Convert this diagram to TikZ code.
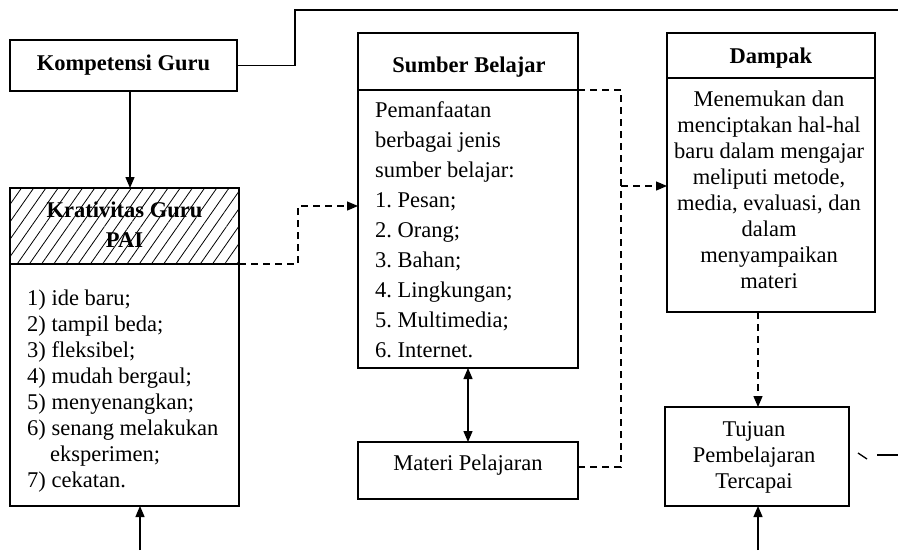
\documentclass[tikz,border=0pt]{standalone}
\usepackage{fontspec}
\setmainfont{Liberation Serif}
\usetikzlibrary{arrows.meta,patterns.meta}
\frenchspacing
\begin{document}
\begin{tikzpicture}[x=1pt,y=-1pt,
  box/.style={draw, line width=1.3pt, inner sep=0pt, outer sep=0pt, rectangle},
  arr/.style={-{Triangle[length=11pt,width=9pt]}, line width=1.3pt},
  dblarr/.style={{Triangle[length=11pt,width=9pt]}-{Triangle[length=11pt,width=9pt]}, line width=1.3pt},
  dashline/.style={line width=1.3pt, dash pattern=on 7pt off 5pt},
  darr/.style={arr, dash pattern=on 7pt off 5pt},
  ttl/.style={font=\fontsize{22.5}{30}\selectfont\bfseries\frenchspacing, inner sep=0pt},
  txt/.style={font=\fontsize{22.5}{26}\selectfont\frenchspacing, inner sep=0pt},
]
\useasboundingbox (0,0) rectangle (898,550);

% boxes
\node[box, minimum width=227pt, minimum height=51pt] (komp) at (123.5,65.5) {};
\fill[pattern={Lines[angle=55,distance=10pt,line width=0.8pt]}] (10,188) rectangle (239,264);
\node[box, minimum width=229pt, minimum height=76pt] (kreh) at (124.5,226) {};
\node[box, minimum width=229pt, minimum height=242pt] (kreb) at (124.5,385) {};
\node[box, minimum width=220pt, minimum height=57pt] (sumh) at (468,61.5) {};
\node[box, minimum width=220pt, minimum height=278pt] (sumb) at (468,229) {};
\node[box, minimum width=220pt, minimum height=57pt] (mat) at (468,470.5) {};
\node[box, minimum width=208pt, minimum height=45pt] (damph) at (771,55.5) {};
\node[box, minimum width=208pt, minimum height=234pt] (dampb) at (771,195) {};
\node[box, minimum width=184pt, minimum height=99pt] (tuj) at (757,456.5) {};

% texts
\node[ttl, anchor=base] (kompt) at (123.5,70) {Kompetensi Guru};
\node[ttl, anchor=north, align=center] (kreht) at (124.5,201.6) {Krativitas Guru\\PAI};
\node[txt, anchor=north west, align=left] (krebt) at (27,289.4) {1) ide baru;\\2) tampil beda;\\3) fleksibel;\\4) mudah bergaul;\\5) menyenangkan;\\6) senang melakukan\\\hspace*{23pt}eksperimen;\\7) cekatan.};
\node[ttl, anchor=base] (sumht) at (469,72) {Sumber Belajar};
\node[txt, font=\fontsize{22.5}{30}\selectfont\frenchspacing, anchor=north west, align=left] (sumbt) at (375,101.6) {Pemanfaatan\\berbagai jenis\\sumber belajar:\\1. Pesan;\\2. Orang;\\3. Bahan;\\4. Lingkungan;\\5. Multimedia;\\6. Internet.};
\node[txt, anchor=base] (matt) at (468,470) {Materi Pelajaran};
\node[ttl, anchor=base] (dampht) at (771,63) {Dampak};
\node[txt, anchor=north, align=center] (dampbt) at (769,90.6) {Menemukan dan\\menciptakan hal-hal\\baru dalam mengajar\\meliputi metode,\\media, evaluasi, dan\\dalam\\menyampaikan\\materi};
\node[txt, anchor=north, align=center] (tujt) at (754,421.6) {Tujuan\\Pembelajaran\\Tercapai};

% connectors
\coordinate (topbend) at (295,10);
\coordinate (topend) at (898,10);
\draw[line width=1.3pt] (komp.east) -| (topbend) -- (topend);
\draw[arr] ([xshift=6.5pt]komp.south) -- ([xshift=5.5pt]kreh.north);
\coordinate (kbot) at (140,550);
\draw[arr] (kbot) -- (kbot |- kreb.south);

\coordinate (d1) at (298,206);
\draw[darr] (kreh.south east) -| (d1) -- (d1 -| sumb.west);

\coordinate (d2) at (621,90);
\coordinate (d3) at (621,467);
\coordinate (d4) at (621,186);
\draw[dashline] (sumh.south east) -- (d2) -- (d3) -- (d3 -| mat.east);
\draw[darr] (d4) -- (d4 -| dampb.west);

\draw[dblarr] (sumb.south) -- (mat.north);

\draw[darr] ([xshift=1pt]tuj.north |- dampb.south) -- ([xshift=1pt]tuj.north);
\coordinate (tbot) at (758,550);
\draw[arr] (tbot) -- (tbot |- tuj.south);

\coordinate (r1) at (858,453);
\coordinate (r2) at (867,459);
\coordinate (r3) at (877,455);
\coordinate (r4) at (898,455);
\draw[line width=1.3pt] (r1) -- (r2);
\draw[line width=1.3pt] (r3) -- (r4);
\end{tikzpicture}
\end{document}
